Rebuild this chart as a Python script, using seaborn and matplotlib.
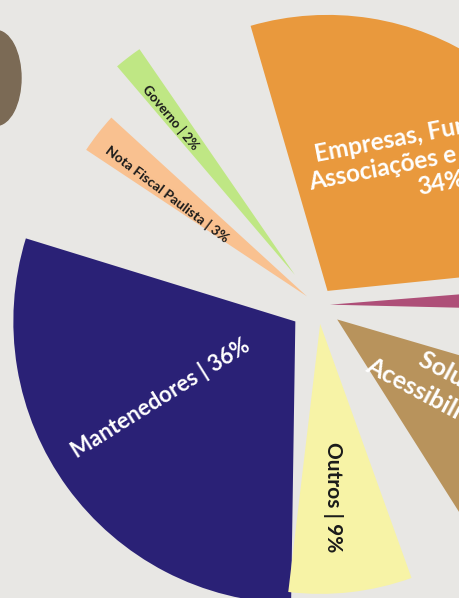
import numpy as np
import matplotlib
matplotlib.use("Agg")
import matplotlib.pyplot as plt
from matplotlib.patches import Wedge, Ellipse
import seaborn as sns

# Data: revenue sources (share in %), counter-clockwise from the right
categories = ["Eventos", "Empresas, Fundações,\nAssociações e Institutos", "Governo",
              "Nota Fiscal Paulista", "Mantenedores", "Outros",
              "Soluções em\nAcessibilidade"]
shares = [2, 34, 2, 3, 36, 9, 14]
label_texts = [None, "Empresas, Fundações,\nAssociações e Institutos\n34%", "Governo | 2%",
               "Nota Fiscal Paulista | 3%", "Mantenedores | 36%", "Outros | 9%",
               "Soluções em\nAcessibilidade | 14%"]

# Layout of the paper-cut pie (pixels, y up)
center = (318, 293)
span_scale = 0.82
mid_angles = [1.6, 56, 127.5, 142, 216, -83.5, -37]
radii = [285, 276, 274, 265, 282, 270, 290]
explode = [12, 17, 38, 14, 28, 19, 24]
colors = ["#ae4f78", "#e9993d", "#bfe784", "#f9c190", "#2a2176", "#f7f3a6", "#b8935c"]
label_dist = [0, 171.6, 200, 173, 155, 174, 162]
label_dtheta = [0, -5.2, 0.8, 1.8, -6.5, -2.3, 5.5]
label_rot = [0, 11, -50, -37, 32, -90, -28]
label_size = [0, 17.5, 9.5, 10, 16, 15, 18]
label_spacing = [1, 1.15, 1, 1, 1, 1, 1.3]
label_color = ["white", "white", "#1a1a1a", "#1a1a1a", "white", "#1a1a1a", "white"]

sns.set_theme(style="white")
plt.rcParams["font.family"] = ["Lato", "DejaVu Sans"]

fig = plt.figure(figsize=(4.59, 5.98), dpi=100)
fig.patch.set_facecolor("#e8e7e4")
ax = fig.add_axes([0, 0, 1, 1])
ax.set_facecolor("#e8e7e4")
ax.set_xlim(0, 459)
ax.set_ylim(0, 598)
ax.set_aspect("equal")
ax.axis("off")

# brown stone at the top left of the photo
ax.add_patch(Ellipse((-4, 520), 50, 95, color="#7b6a55", zorder=1))

for i, share in enumerate(shares):
    span = share * 3.6 * span_scale
    mid = mid_angles[i]
    rad = np.deg2rad(mid)
    apex = (center[0] + explode[i] * np.cos(rad), center[1] + explode[i] * np.sin(rad))
    w = Wedge(apex, radii[i], mid - span / 2, mid + span / 2,
              facecolor=colors[i], edgecolor="none", zorder=2)
    ax.add_patch(w)
    if label_texts[i]:
        a = np.deg2rad(mid + label_dtheta[i])
        lx = apex[0] + label_dist[i] * np.cos(a)
        ly = apex[1] + label_dist[i] * np.sin(a)
        ax.text(lx, ly, label_texts[i], rotation=label_rot[i], rotation_mode="anchor",
                ha="center", va="center", multialignment="center",
                fontsize=label_size[i], fontweight="bold", color=label_color[i],
                linespacing=label_spacing[i], zorder=3)

fig.savefig("out.png", dpi=100, facecolor=fig.get_facecolor())
